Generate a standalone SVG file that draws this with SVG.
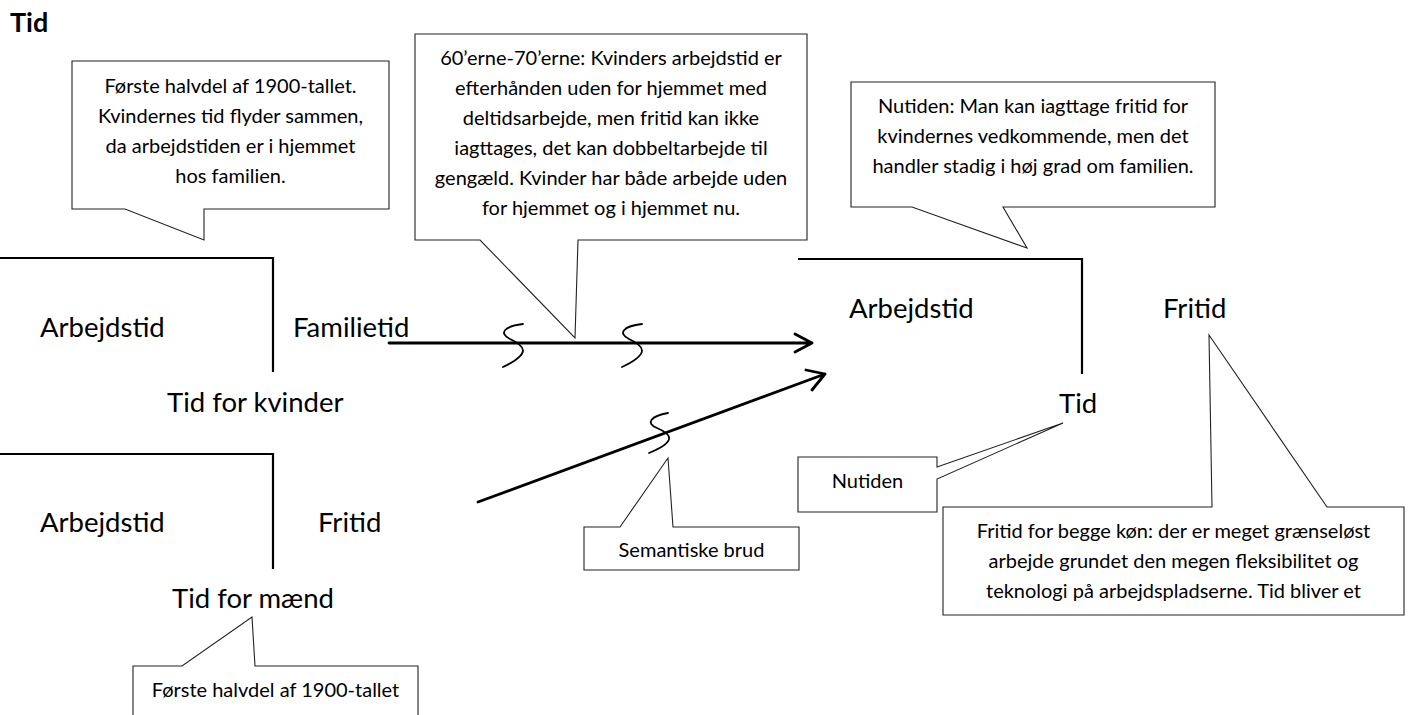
<svg xmlns="http://www.w3.org/2000/svg" width="1411" height="715" viewBox="0 0 1411 715">
<style>
text{font-family:Lato,"Liberation Sans",sans-serif;fill:#000}
.h{font-size:27px;font-weight:bold}
.lbl{font-size:27.5px}
.c{font-size:20px;text-anchor:middle}
.co{fill:#fff;stroke:#222;stroke-width:1.1;stroke-linejoin:miter}
.br{fill:none;stroke:#000;stroke-width:2.2}
.ar{fill:none;stroke:#000;stroke-width:2.8;stroke-linecap:round;stroke-linejoin:round}
.sq{fill:none;stroke:#000;stroke-width:1.8;stroke-linecap:round}
</style>
<rect width="1411" height="715" fill="#fff"/>
<text class="h" x="10" y="32">Tid</text>

<g id="connectors">
<path class="ar" d="M389,343 H812 M795,334 L812,343 L795,352"/>
<path class="ar" d="M478,502 L825,374 M806,370 L825,374 L812,390"/>
<path class="sq" d="M523,324 C505,326 498,333 510,339 C525,346 532,353 503,367"/>
<path class="sq" d="M642,324 C624,326 617,333 629,339 C644,346 651,353 622,367"/>
<path class="sq" d="M668,413 C651,416 645,423 657,428 C671,434 678,441 649,453"/>
</g>

<g id="kvinder">
<path class="br" d="M0,258 H273 V372"/>
<text class="lbl" x="40" y="337">Arbejdstid</text>
<text class="lbl" x="293" y="337">Familietid</text>
<text class="lbl" x="167" y="412">Tid for kvinder</text>
</g>

<g id="maend">
<path class="br" d="M0,454 H273 V569"/>
<text class="lbl" x="40" y="532">Arbejdstid</text>
<text class="lbl" x="318" y="532">Fritid</text>
<text class="lbl" x="172" y="608">Tid for mænd</text>
</g>

<g id="nutid">
<path class="br" d="M798,259 H1082 V374"/>
<text class="lbl" x="849" y="318">Arbejdstid</text>
<text class="lbl" x="1163" y="318">Fritid</text>
<text class="lbl" x="1059" y="413">Tid</text>
</g>

<g id="callout-1900">
<path class="co" d="M72,61 H389 V209 H204 V240 L125,209 H72 Z"/>
<text class="c" x="230.5" y="93">Første halvdel af 1900-tallet.</text>
<text class="c" x="230.5" y="123">Kvindernes tid flyder sammen,</text>
<text class="c" x="230.5" y="153">da arbejdstiden er i hjemmet</text>
<text class="c" x="230.5" y="183">hos familien.</text>
</g>

<g id="callout-6070">
<path class="co" d="M415,34 H807 V240 H578 L575,338 L480,240 H415 Z"/>
<text class="c" x="611" y="65">60’erne-70’erne: Kvinders arbejdstid er</text>
<text class="c" x="611" y="95">efterhånden uden for hjemmet med</text>
<text class="c" x="611" y="125">deltidsarbejde, men fritid kan ikke</text>
<text class="c" x="611" y="155">iagttages, det kan dobbeltarbejde til</text>
<text class="c" x="611" y="185">gengæld. Kvinder har både arbejde uden</text>
<text class="c" x="611" y="215">for hjemmet og i hjemmet nu.</text>
</g>

<g id="callout-nutiden-top">
<path class="co" d="M851,82 H1215 V207 H1003 L1027,248 L912,207 H851 Z"/>
<text class="c" x="1033" y="113">Nutiden: Man kan iagttage fritid for</text>
<text class="c" x="1033" y="143">kvindernes vedkommende, men det</text>
<text class="c" x="1033" y="173">handler stadig i høj grad om familien.</text>
</g>

<g id="callout-nutiden">
<path class="co" d="M798,457 H937 V467 L1063,423 L937,479 V512 H798 Z"/>
<text class="c" x="867.5" y="488">Nutiden</text>
</g>

<g id="callout-semantiske">
<path class="co" d="M584,527 H620 L668,458 L673,527 H799 V570 H584 Z"/>
<text class="c" x="691.5" y="557">Semantiske brud</text>
</g>

<g id="callout-fritid">
<path class="co" d="M943,507 H1212 L1209,335 L1327,507 H1404 V615 H943 Z"/>
<text class="c" x="1173.5" y="538">Fritid for begge køn: der er meget grænseløst</text>
<text class="c" x="1173.5" y="568">arbejde grundet den megen fleksibilitet og</text>
<text class="c" x="1173.5" y="598">teknologi på arbejdspladserne. Tid bliver et</text>
</g>

<g id="callout-maend">
<path class="co" d="M133,666 H182 L252,617 L255,666 H418 V720 H133 Z"/>
<text class="c" x="275.5" y="697">Første halvdel af 1900-tallet</text>
</g>
</svg>
